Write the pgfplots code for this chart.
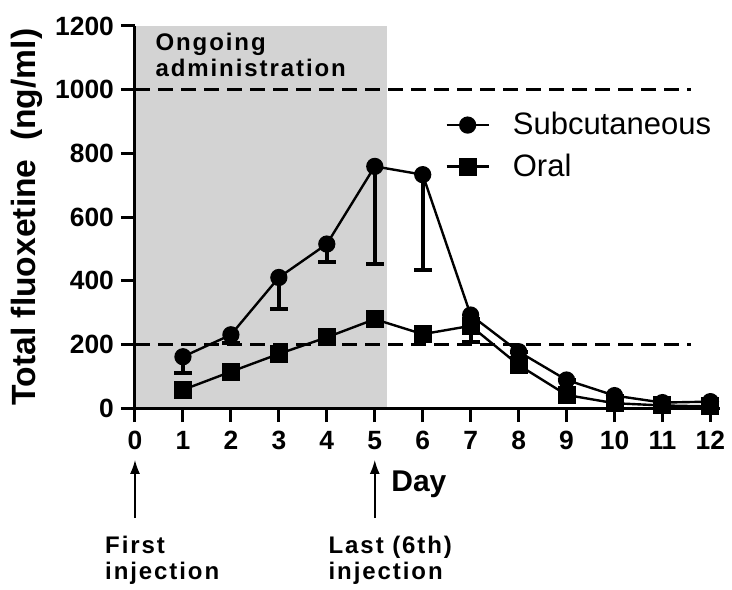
\documentclass[border=0pt]{standalone}
\usepackage{fontspec}
\setmainfont{Liberation Sans}
\newfontfamily\spaced[LetterSpace=8]{Liberation Sans}
\usepackage{pgfplots}
\pgfplotsset{compat=1.18}
\usetikzlibrary{arrows.meta}
\definecolor{shade}{RGB}{211,211,211}
\begin{document}
\begin{tikzpicture}
\begin{axis}[
  at={(67.5pt,90.5pt)}, anchor=south west,
  scale only axis, width=292.5pt, height=191pt,
  xmin=0, xmax=12.2, ymin=0, ymax=1200,
  axis x line=bottom, axis y line=left,
  axis line style={-, line width=1.5pt},
  every tick/.style={black, line width=1.5pt},
  major tick length=7pt, tick align=outside,
  xtick={0,1,...,12}, ytick={0,200,...,1200},
  xticklabels={0,1,2,3,4,5,6,7,8,9,10,11,12},
  yticklabels={0,200,400,600,800,1000,1200},
  xticklabel style={yshift=-1pt, font=\bfseries\fontsize{13.2}{14}\selectfont},
  yticklabel style={font=\bfseries\fontsize{13.2}{14}\selectfont},
  ylabel={Total fluoxetine\ \ (ng/ml)},
  ylabel style={at={(axis description cs:-0.185,0.5)}, anchor=center, font=\bfseries\fontsize{16.8}{18}\selectfont},
  clip=false, axis on top,
  legend style={draw=none, fill=none, at={(0.53,0.775)}, anchor=north west,
    font=\fontsize{15.5}{17}\selectfont, inner sep=0pt, row sep=8pt,
    nodes={inner sep=0pt},
    /tikz/every odd column/.append style={column sep=11.5pt}},
  legend cell align=left,
  legend image code/.code={\draw[mark repeat=2, mark phase=2, #1] plot coordinates {(0pt,0pt) (10.5pt,0pt) (21pt,0pt)};},
]
\addplot[fill=shade, draw=none, forget plot] coordinates {(0,0) (5.25,0) (5.25,1200) (0,1200)} -- cycle;
\addplot[black, line width=1.5pt, dash pattern=on 7.5pt off 4pt, forget plot] coordinates {(0,1000) (11.6,1000)};
\addplot[black, line width=1.5pt, dash pattern=on 7.5pt off 4pt, forget plot] coordinates {(0,200) (11.6,200)};
\addplot[black, line width=1.2pt, mark=*, mark size=3.7pt,
  error bars/y dir=minus, error bars/y explicit,
  error bars/error bar style={line width=2pt},
  error bars/error mark options={line width=2pt, mark size=4.5pt, rotate=90}]
  table[x=x, y=y, y error=e] {
x y e
1 161 51
2 230 25
3 410 99
4 515 57
5 759 306
6 733 299
7 292 84
8 177 0
9 88 0
10 39 0
11 17 0
12 20 0
};
\addlegendentry{Subcutaneous}
\addplot[black, line width=1.2pt, mark=square*, mark size=3.9pt] coordinates {
(1,57) (2,114) (3,170) (4,222) (5,279) (6,232) (7,258) (8,135) (9,41) (10,15) (11,8) (12,5)};
\addlegendentry{Oral}
\node[anchor=north west, align=left, inner sep=0pt, font=\spaced\bfseries\fontsize{12}{13}\selectfont] at (axis cs:0.42,1178) {Ongoing\\administration};
\node[anchor=center, inner sep=0pt, font=\bfseries\fontsize{15}{15}\selectfont] at (axis cs:5.92,-239) {Day};
\draw[line width=0.9pt, -{Latex[length=7pt,width=5pt]}] (axis cs:0,-346) -- (axis cs:0,-163);
\draw[line width=0.9pt, -{Latex[length=7pt,width=5pt]}] (axis cs:5,-346) -- (axis cs:5,-163);
\node[anchor=north west, align=left, inner sep=0pt, font=\spaced\bfseries\fontsize{12}{13}\selectfont] at (axis cs:-0.63,-400) {First\\injection};
\node[anchor=north west, align=left, inner sep=0pt, font=\spaced\bfseries\fontsize{12}{13}\selectfont] at (axis cs:4.03,-400) {Last (6th)\\injection};
\end{axis}
\pgfresetboundingbox
\path (0,0) rectangle (366pt,294.5pt);
\end{tikzpicture}
\end{document}
